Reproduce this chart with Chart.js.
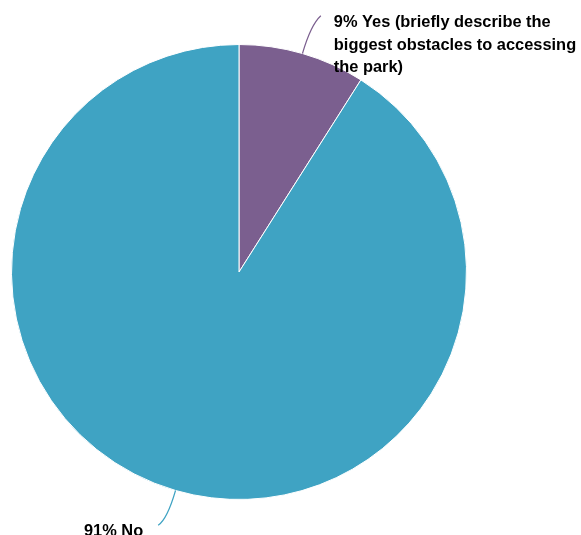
<!DOCTYPE html>
<html>
<head>
<meta charset="utf-8">
<script src="https://cdn.jsdelivr.net/npm/chart.js@4"></script>
<style>
  html, body { margin: 0; padding: 0; background: #fff; }
</style>
</head>
<body>
<canvas id="myChart" width="581" height="535"></canvas>
<script>
const categories = ['Yes (briefly describe the biggest obstacles to accessing the park)', 'No'];
const values = [9, 91];
const colors = ['#7b5f8f', '#3fa3c3'];

// leader lines + wrapped labels drawn next to each slice
const calloutPlugin = {
  id: 'callouts',
  afterDraw(chart) {
    const ctx = chart.ctx;
    const meta = chart.getDatasetMeta(0);
    const total = values.reduce((a, b) => a + b, 0);
    ctx.save();
    ctx.font = 'bold 16.4px "Liberation Sans", Arial, sans-serif';
    ctx.textBaseline = 'middle';
    meta.data.forEach((arc, i) => {
      const mid = (arc.startAngle + arc.endAngle) / 2;
      const r = arc.outerRadius;
      const cx = arc.x, cy = arc.y;
      const right = Math.cos(mid) >= 0;
      const p0 = { x: cx + Math.cos(mid) * r, y: cy + Math.sin(mid) * r };
      const c = { x: cx + Math.cos(mid) * (r + 30), y: cy + Math.sin(mid) * (r + 30) };
      const end = { x: c.x + (right ? 10 : -9), y: c.y + (Math.sin(mid) < 0 ? -9 : 6) };
      ctx.strokeStyle = colors[i];
      ctx.lineWidth = 1.2;
      ctx.beginPath();
      ctx.moveTo(p0.x, p0.y);
      ctx.quadraticCurveTo(c.x, c.y, end.x, end.y);
      ctx.stroke();

      const pct = Math.round(values[i] / total * 100) + '% ';
      const words = (pct + categories[i]).split(' ');
      const lines = [];
      let cur = '';
      words.forEach(w => {
        const test = cur ? cur + ' ' + w : w;
        if (ctx.measureText(test).width > 250 && cur) {
          lines.push(cur);
          cur = w;
        } else {
          cur = test;
        }
      });
      lines.push(cur);

      ctx.fillStyle = '#000';
      ctx.textAlign = right ? 'left' : 'right';
      const tx = right ? end.x + 13 : end.x - 15;
      const lh = 22.5;
      const ty = right ? end.y + 7 : end.y + 6;
      lines.forEach((ln, k) => ctx.fillText(ln, tx, ty + k * lh));
    });
    ctx.restore();
  }
};

new Chart(document.getElementById('myChart').getContext('2d'), {
  type: 'pie',
  data: {
    labels: categories,
    datasets: [{
      data: values,
      backgroundColor: colors,
      borderColor: '#ffffff',
      borderWidth: 1
    }]
  },
  options: {
    responsive: false,
    animation: false,
    layout: { padding: { left: 11, right: 114, top: 44, bottom: 35 } },
    plugins: {
      legend: { display: false },
      tooltip: { enabled: false }
    }
  },
  plugins: [calloutPlugin]
});
</script>
</body>
</html>
